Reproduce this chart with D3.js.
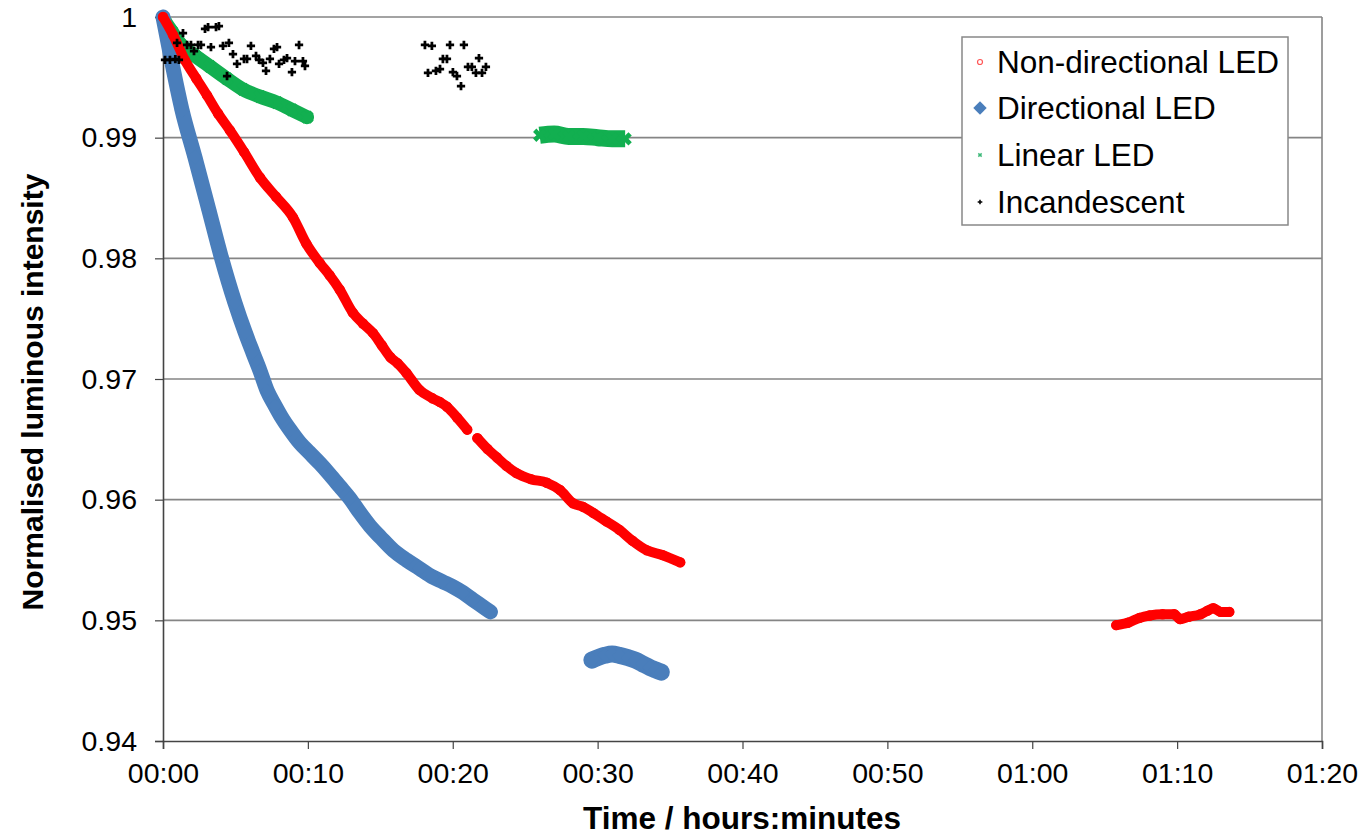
<!DOCTYPE html>
<html>
<head>
<meta charset="utf-8">
<script src="https://cdn.jsdelivr.net/npm/d3@7"></script>
<style>
  html, body { margin: 0; padding: 0; background: #fff; }
  svg { display: block; }
  text { font-family: "Liberation Sans", Arial, sans-serif; fill: #000; }
</style>
</head>
<body>
<svg id="chart" width="1368" height="837"></svg>
<script>
// ---------- Data (time in minutes, value = normalised luminous intensity) ----------
const seriesNames = ["Non-directional LED", "Directional LED", "Linear LED", "Incandescent"];

const xTickMinutes = [0, 10, 20, 30, 40, 50, 60, 70, 80];
const yTickValues = [0.94, 0.95, 0.96, 0.97, 0.98, 0.99, 1.0];

// Non-directional LED (red) - three recorded runs
const nonDirA = [[0,1.0],[0.7,0.9985],[1.52,0.9964],[2.3,0.9949],[3.04,0.9935],[3.8,0.9920],[4.62,0.9906],
  [5.6,0.9888],[6.69,0.9867],[7.8,0.9851],[8.97,0.9834],[9.9,0.9812],[10.83,0.9796],[11.5,0.9786],[12.2,0.9774],
  [13.1,0.9755],[13.8,0.9746],[14.5,0.9738],[15.1,0.9728],[15.7,0.9718],[16.2,0.9713],[16.8,0.9705],[17.7,0.9691],
  [18.6,0.9684],[19.1,0.9681],[19.6,0.9677],[20.3,0.9668],[21.0,0.9658]];
const nonDirB = [[21.7,0.9651],[22.4,0.9642],[23.05,0.9635],[23.7,0.9628],[24.4,0.9622],[25.4,0.9617],[26.5,0.9614],
  [27.4,0.9608],[28.3,0.9597],[29.0,0.9594],[29.7,0.9589],[30.6,0.9582],[31.5,0.9575],[32.4,0.9566],[33.4,0.9558],
  [34.5,0.9554],[35.7,0.9548]];
const nonDirC = [[65.8,0.9496],[66.6,0.9498],[67.4,0.9502],[68.1,0.9504],[69.0,0.9505],[69.8,0.9505],[70.2,0.9501],
  [70.8,0.9503],[71.6,0.9505],[72.1,0.9508],[72.5,0.9510],[73.0,0.9507],[73.6,0.9507]];

// Directional LED (blue)
const dirA = [[0,1.0],[0.6,0.9963],[1.31,0.9923],[2.2,0.9884],[3.17,0.9840],[4.0,0.9802],[4.97,0.9763],[5.66,0.9739],
  [6.2,0.9722],[6.69,0.9707],[7.2,0.9690],[7.73,0.9678],[8.2,0.9668],[8.76,0.9658],[9.45,0.9647],[10.1,0.9639],
  [10.83,0.9630],[11.5,0.9621],[12.2,0.9611],[12.9,0.9601],[13.6,0.9589],[14.3,0.9578],[15.0,0.9569],[15.9,0.9558],
  [16.8,0.9550],[17.7,0.9543],[18.6,0.9536],[19.3,0.9532],[20.0,0.9528],[20.7,0.9523],[21.4,0.9517],[22.0,0.9512],
  [22.6,0.9507]];
const dirB = [[29.6,0.9467],[30.5,0.9471],[31.0,0.9472],[31.5,0.9471],[32.1,0.9469],[32.6,0.9467],[33.1,0.9464],
  [33.6,0.9461],[34.0,0.9459],[34.4,0.9457]];

// Linear LED (green)
const linA = [[0.14,0.9996],[0.6,0.9988],[1.17,0.9978],[2.2,0.9968],[3.24,0.9959],[4.4,0.9949],[5.52,0.9940],
  [6.7,0.9934],[7.87,0.9929],[8.9,0.9923],[9.94,0.9917]];
const linB = [[26.0,0.9902],[27.0,0.9903],[28.0,0.9901],[29.0,0.9901],[30.0,0.9900],[31.0,0.9899],[31.9,0.9899]];

// Incandescent (black)
const incand = [[0.14,0.99644],[0.48,0.99644],[0.85,0.99650],[1.10,0.99644],[1.38,0.99867],[0.97,0.99785],
  [1.66,0.99768],[1.93,0.99768],[2.14,0.99718],[2.42,0.99768],[2.62,0.99768],[2.90,0.99901],[3.11,0.99917],
  [3.66,0.99917],[3.86,0.99925],[3.31,0.99751],[4.14,0.99760],[4.55,0.99785],[4.83,0.99693],[4.42,0.99511],
  [5.11,0.99611],[5.59,0.99652],[5.80,0.99652],[6.07,0.99760],[6.42,0.99677],[6.63,0.99644],[6.90,0.99619],
  [7.11,0.99553],[7.38,0.99652],[7.66,0.99735],[7.87,0.99751],[8.01,0.99611],[8.35,0.99644],[8.56,0.99660],
  [8.90,0.99544],[9.11,0.99635],[9.39,0.99768],[9.66,0.99635],[9.80,0.99594],
  [18.08,0.99768],[18.56,0.99760],[19.81,0.99768],[20.77,0.99768],[19.32,0.99652],[19.60,0.99652],
  [21.81,0.99660],[18.29,0.99536],[18.84,0.99553],[19.12,0.99569],[20.01,0.99544],[20.29,0.99511],
  [21.05,0.99586],[21.32,0.99586],[22.29,0.99586],[21.60,0.99536],[22.02,0.99536],[20.57,0.99428]];

// ---------- Layout ----------
const svg = d3.select("#chart");
const L = 163, T = 17, R = 1322, B = 741;

const x = d3.scaleLinear().domain([0, 80]).range([L, R]);
const y = d3.scaleLinear().domain([0.94, 1.0]).range([B, T]);

const fmtTime = m => { const h = Math.floor(m / 60), mm = m % 60; return String(h).padStart(2,"0") + ":" + String(mm).padStart(2,"0"); };
const fmtY = v => (Math.abs(v - 1) < 1e-9 ? "1" : v.toFixed(2));

// Gridlines
svg.append("g").selectAll("line").data(yTickValues.filter(v => v > 0.94)).join("line")
  .attr("x1", L).attr("x2", R).attr("y1", d => y(d)).attr("y2", d => y(d))
  .attr("stroke", "#858585").attr("stroke-width", 1.6);

// right border
svg.append("line").attr("x1", R).attr("x2", R).attr("y1", T).attr("y2", B)
  .attr("stroke", "#858585").attr("stroke-width", 1.6);

// Axes
const yAxis = d3.axisLeft(y).tickValues(yTickValues).tickFormat(fmtY).tickSize(8).tickPadding(18);
const xAxis = d3.axisBottom(x).tickValues(xTickMinutes).tickFormat(fmtTime).tickSize(8).tickPadding(14);

const gy = svg.append("g").attr("transform", `translate(${L},0)`).call(yAxis);
const gx = svg.append("g").attr("transform", `translate(0,${B})`).call(xAxis);
[gy, gx].forEach(g => {
  g.select(".domain").attr("stroke", "#444").attr("stroke-width", 1.6);
  g.selectAll(".tick line").attr("stroke", "#444").attr("stroke-width", 1.2);
  g.selectAll(".tick text").attr("font-family", "Liberation Sans, Arial, sans-serif").attr("font-size", 28.5).attr("fill", "#000");
});

// ---------- Series ----------
const line = d3.line().x(d => x(d[0])).y(d => y(d[1])).curve(d3.curveMonotoneX);
const plot = svg.append("g");

function band(data, color, width, cap) {
  plot.append("path").datum(data).attr("d", line)
    .attr("fill", "none").attr("stroke", color).attr("stroke-width", width)
    .attr("stroke-linecap", cap || "round").attr("stroke-linejoin", "round");
}

// Linear LED (green) band + x markers
const green = "#12AF50";
[linA, linB].forEach(seg => {
  const isB = seg === linB;
  band(seg, green, isB ? 17 : 14, isB ? "butt" : "round");
  plot.append("g").selectAll("path").data(seg).join("path")
    .attr("transform", d => `translate(${x(d[0])},${y(d[1])}) rotate(45)`)
    .attr("d", d3.symbol(d3.symbolCross, 110)())
    .attr("fill", green);
});

// Directional LED (blue) band + diamonds
const blue = "#4A7EBB";
[dirA, dirB].forEach(seg => {
  band(seg, blue, seg === dirB ? 17 : 15);
  plot.append("g").selectAll("path").data(seg).join("path")
    .attr("transform", d => `translate(${x(d[0])},${y(d[1])}) rotate(45)`)
    .attr("d", d3.symbol(d3.symbolSquare, 110)())
    .attr("fill", blue);
});

// Non-directional LED (red) band + circles
const red = "#FF0000";
[nonDirA, nonDirB, nonDirC].forEach(seg => {
  band(seg, red, 10);
  plot.append("g").selectAll("circle").data(seg).join("circle")
    .attr("cx", d => x(d[0])).attr("cy", d => y(d[1])).attr("r", 5.2)
    .attr("fill", red);
});

// Incandescent (black) plus markers
plot.append("g").selectAll("path").data(incand).join("path")
  .attr("transform", d => `translate(${x(d[0])},${y(d[1])})`)
  .attr("d", d3.symbol(d3.symbolCross, 38)())
  .attr("fill", "#000");

// ---------- Axis titles ----------
svg.append("text").attr("x", 742).attr("y", 829).attr("text-anchor", "middle")
  .attr("font-size", 31.5).attr("font-weight", "bold").text("Time / hours:minutes");
svg.append("text").attr("transform", "translate(43,392) rotate(-90)").attr("text-anchor", "middle")
  .attr("font-size", 30).attr("font-weight", "bold").text("Normalised luminous intensity");

// ---------- Legend ----------
const lg = svg.append("g");
lg.append("rect").attr("x", 962).attr("y", 37).attr("width", 326).attr("height", 188)
  .attr("fill", "#fff").attr("stroke", "#888").attr("stroke-width", 1.5);
const rowsY = [62, 108, 155, 202];
const items = lg.selectAll("g.item").data(seriesNames).join("g").attr("class", "item")
  .attr("transform", (d, i) => `translate(0,${rowsY[i]})`);
items.append("text").attr("x", 997).attr("y", 11).attr("font-size", 31.5).text(d => d);
items.each(function(d, i) {
  const g = d3.select(this);
  if (i === 0) g.append("circle").attr("cx", 980).attr("cy", 0).attr("r", 2.5).attr("fill", "none").attr("stroke", "#ff5555").attr("stroke-width", 1.2);
  if (i === 1) g.append("path").attr("transform", "translate(980,0) rotate(45)").attr("d", d3.symbol(d3.symbolSquare, 90)()).attr("fill", blue);
  if (i === 2) g.append("path").attr("transform", "translate(980,0) rotate(45)").attr("d", d3.symbol(d3.symbolCross, 12)()).attr("fill", "#3cb878");
  if (i === 3) g.append("path").attr("transform", "translate(980,0)").attr("d", d3.symbol(d3.symbolCross, 12)()).attr("fill", "#000");
});
</script>
</body>
</html>
